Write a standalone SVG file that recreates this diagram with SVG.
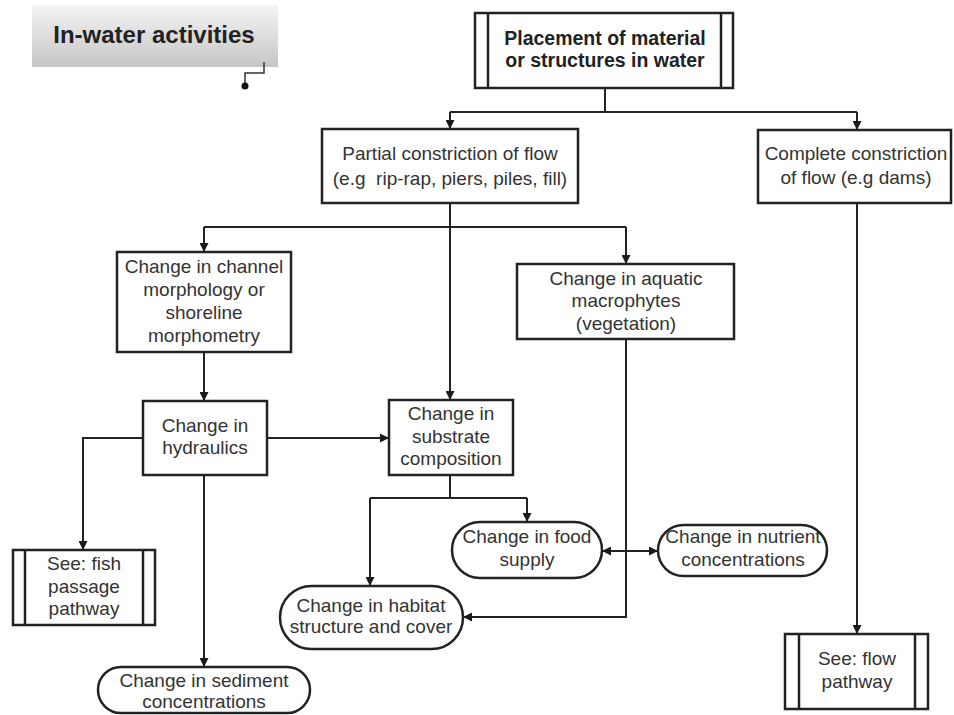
<svg xmlns="http://www.w3.org/2000/svg" width="954" height="715" viewBox="0 0 954 715">
<defs>
<linearGradient id="tg" x1="0" y1="0" x2="0" y2="1">
<stop offset="0" stop-color="#f4f4f4"/>
<stop offset="1" stop-color="#c6c6c6"/>
</linearGradient>
<marker id="ah" viewBox="0 0 10 10" refX="10" refY="5" markerWidth="9" markerHeight="9" markerUnits="userSpaceOnUse" orient="auto-start-reverse">
<path d="M0,0 L10,5 L0,10 z" fill="#1a1a1a"/>
</marker>
</defs>
<style>
.box{fill:#fff;stroke:#222;stroke-width:2.5}
.in{stroke:#222;stroke-width:2.5;fill:none}
.t{font-family:"Liberation Sans",Arial,sans-serif;font-size:19px;fill:#333;text-anchor:middle}
.b{font-family:"Liberation Sans",Arial,sans-serif;font-size:19.5px;font-weight:bold;fill:#222;text-anchor:middle}
.c{stroke:#222;stroke-width:2;fill:none}
.a{marker-end:url(#ah)}
</style>
<rect width="954" height="715" fill="#fff"/>

<g id="title">
<rect x="32" y="5" width="246" height="62" fill="url(#tg)"/>
<text x="154" y="43" font-family="'Liberation Sans',Arial,sans-serif" font-size="24px" font-weight="bold" fill="#222" text-anchor="middle">In-water activities</text>
<path d="M264,62 V73 H245 V86" stroke="#333" stroke-width="1.5" fill="none"/>
<circle cx="245" cy="86" r="3.5" fill="#111"/>
</g>

<g id="connectors">
<path class="c" d="M605,88 V112"/>
<path class="c" d="M450,112 H857"/>
<path class="c a" d="M450,112 V129"/>
<path class="c a" d="M857,112 V130"/>
<path class="c a" d="M450,203 V400"/>
<path class="c" d="M204,227 H626"/>
<path class="c a" d="M204,227 V252"/>
<path class="c a" d="M626,227 V264"/>
<path class="c a" d="M204,352 V401"/>
<path class="c a" d="M267,438 H389"/>
<path class="c a" d="M143,438 H83 V550"/>
<path class="c a" d="M204,475 V667"/>
<path class="c" d="M450,475 V498"/>
<path class="c" d="M370,498 H527"/>
<path class="c a" d="M370,498 V586"/>
<path class="c a" d="M527,498 V522"/>
<path class="c a" d="M626,339 V617 H463"/>
<path class="c a" d="M602,551 H658" marker-start="url(#ah)"/>
<path class="c a" d="M857,203 V634"/>
</g>

<g id="placement">
<rect class="box" x="475" y="13" width="258" height="75"/>
<path class="in" d="M488,13 V88 M721,13 V88"/>
<text class="b" x="605" y="45">Placement of material</text>
<text class="b" x="605" y="67">or structures in water</text>
</g>

<g id="partial">
<rect class="box" x="322" y="129" width="256" height="74"/>
<text class="t" x="450" y="160">Partial constriction of flow</text>
<text class="t" x="450" y="185" xml:space="preserve">(e.g  rip-rap, piers, piles, fill)</text>
</g>

<g id="complete">
<rect class="box" x="758" y="130" width="193" height="73"/>
<text class="t" x="856" y="160">Complete constriction</text>
<text class="t" x="856" y="184">of flow (e.g dams)</text>
</g>

<g id="channel">
<rect class="box" x="117" y="252" width="174" height="100"/>
<text class="t" x="204" y="273">Change in channel</text>
<text class="t" x="204" y="296">morphology or</text>
<text class="t" x="204" y="319">shoreline</text>
<text class="t" x="204" y="342">morphometry</text>
</g>

<g id="aquatic">
<rect class="box" x="517" y="264" width="217" height="75"/>
<text class="t" x="626" y="285">Change in aquatic</text>
<text class="t" x="626" y="307">macrophytes</text>
<text class="t" x="626" y="330">(vegetation)</text>
</g>

<g id="hydraulics">
<rect class="box" x="143" y="401" width="124" height="74"/>
<text class="t" x="205" y="432">Change in</text>
<text class="t" x="205" y="454">hydraulics</text>
</g>

<g id="substrate">
<rect class="box" x="389" y="400" width="124" height="75"/>
<text class="t" x="451" y="420">Change in</text>
<text class="t" x="451" y="443">substrate</text>
<text class="t" x="451" y="465">composition</text>
</g>

<g id="fish">
<rect class="box" x="13" y="550" width="142" height="75"/>
<path class="in" d="M25,550 V625 M143,550 V625"/>
<text class="t" x="84" y="570">See: fish</text>
<text class="t" x="84" y="593">passage</text>
<text class="t" x="84" y="615">pathway</text>
</g>

<g id="food">
<rect class="box" x="452" y="522" width="150" height="56" rx="28" ry="28"/>
<text class="t" x="527" y="543">Change in food</text>
<text class="t" x="527" y="566">supply</text>
</g>

<g id="nutrient">
<rect class="box" x="658" y="525" width="169" height="51" rx="25.5" ry="25.5"/>
<text class="t" x="743" y="543">Change in nutrient</text>
<text class="t" x="743" y="566">concentrations</text>
</g>

<g id="habitat">
<rect class="box" x="280" y="586" width="183" height="63" rx="31.5" ry="31.5"/>
<text class="t" x="371" y="612">Change in habitat</text>
<text class="t" x="371" y="633">structure and cover</text>
</g>

<g id="sediment">
<rect class="box" x="98" y="667" width="212" height="46" rx="23" ry="23"/>
<text class="t" x="204" y="687">Change in sediment</text>
<text class="t" x="204" y="708">concentrations</text>
</g>

<g id="flow">
<rect class="box" x="785" y="634" width="143" height="75"/>
<path class="in" d="M799,634 V709 M915,634 V709"/>
<text class="t" x="857" y="665">See: flow</text>
<text class="t" x="857" y="688">pathway</text>
</g>
</svg>
